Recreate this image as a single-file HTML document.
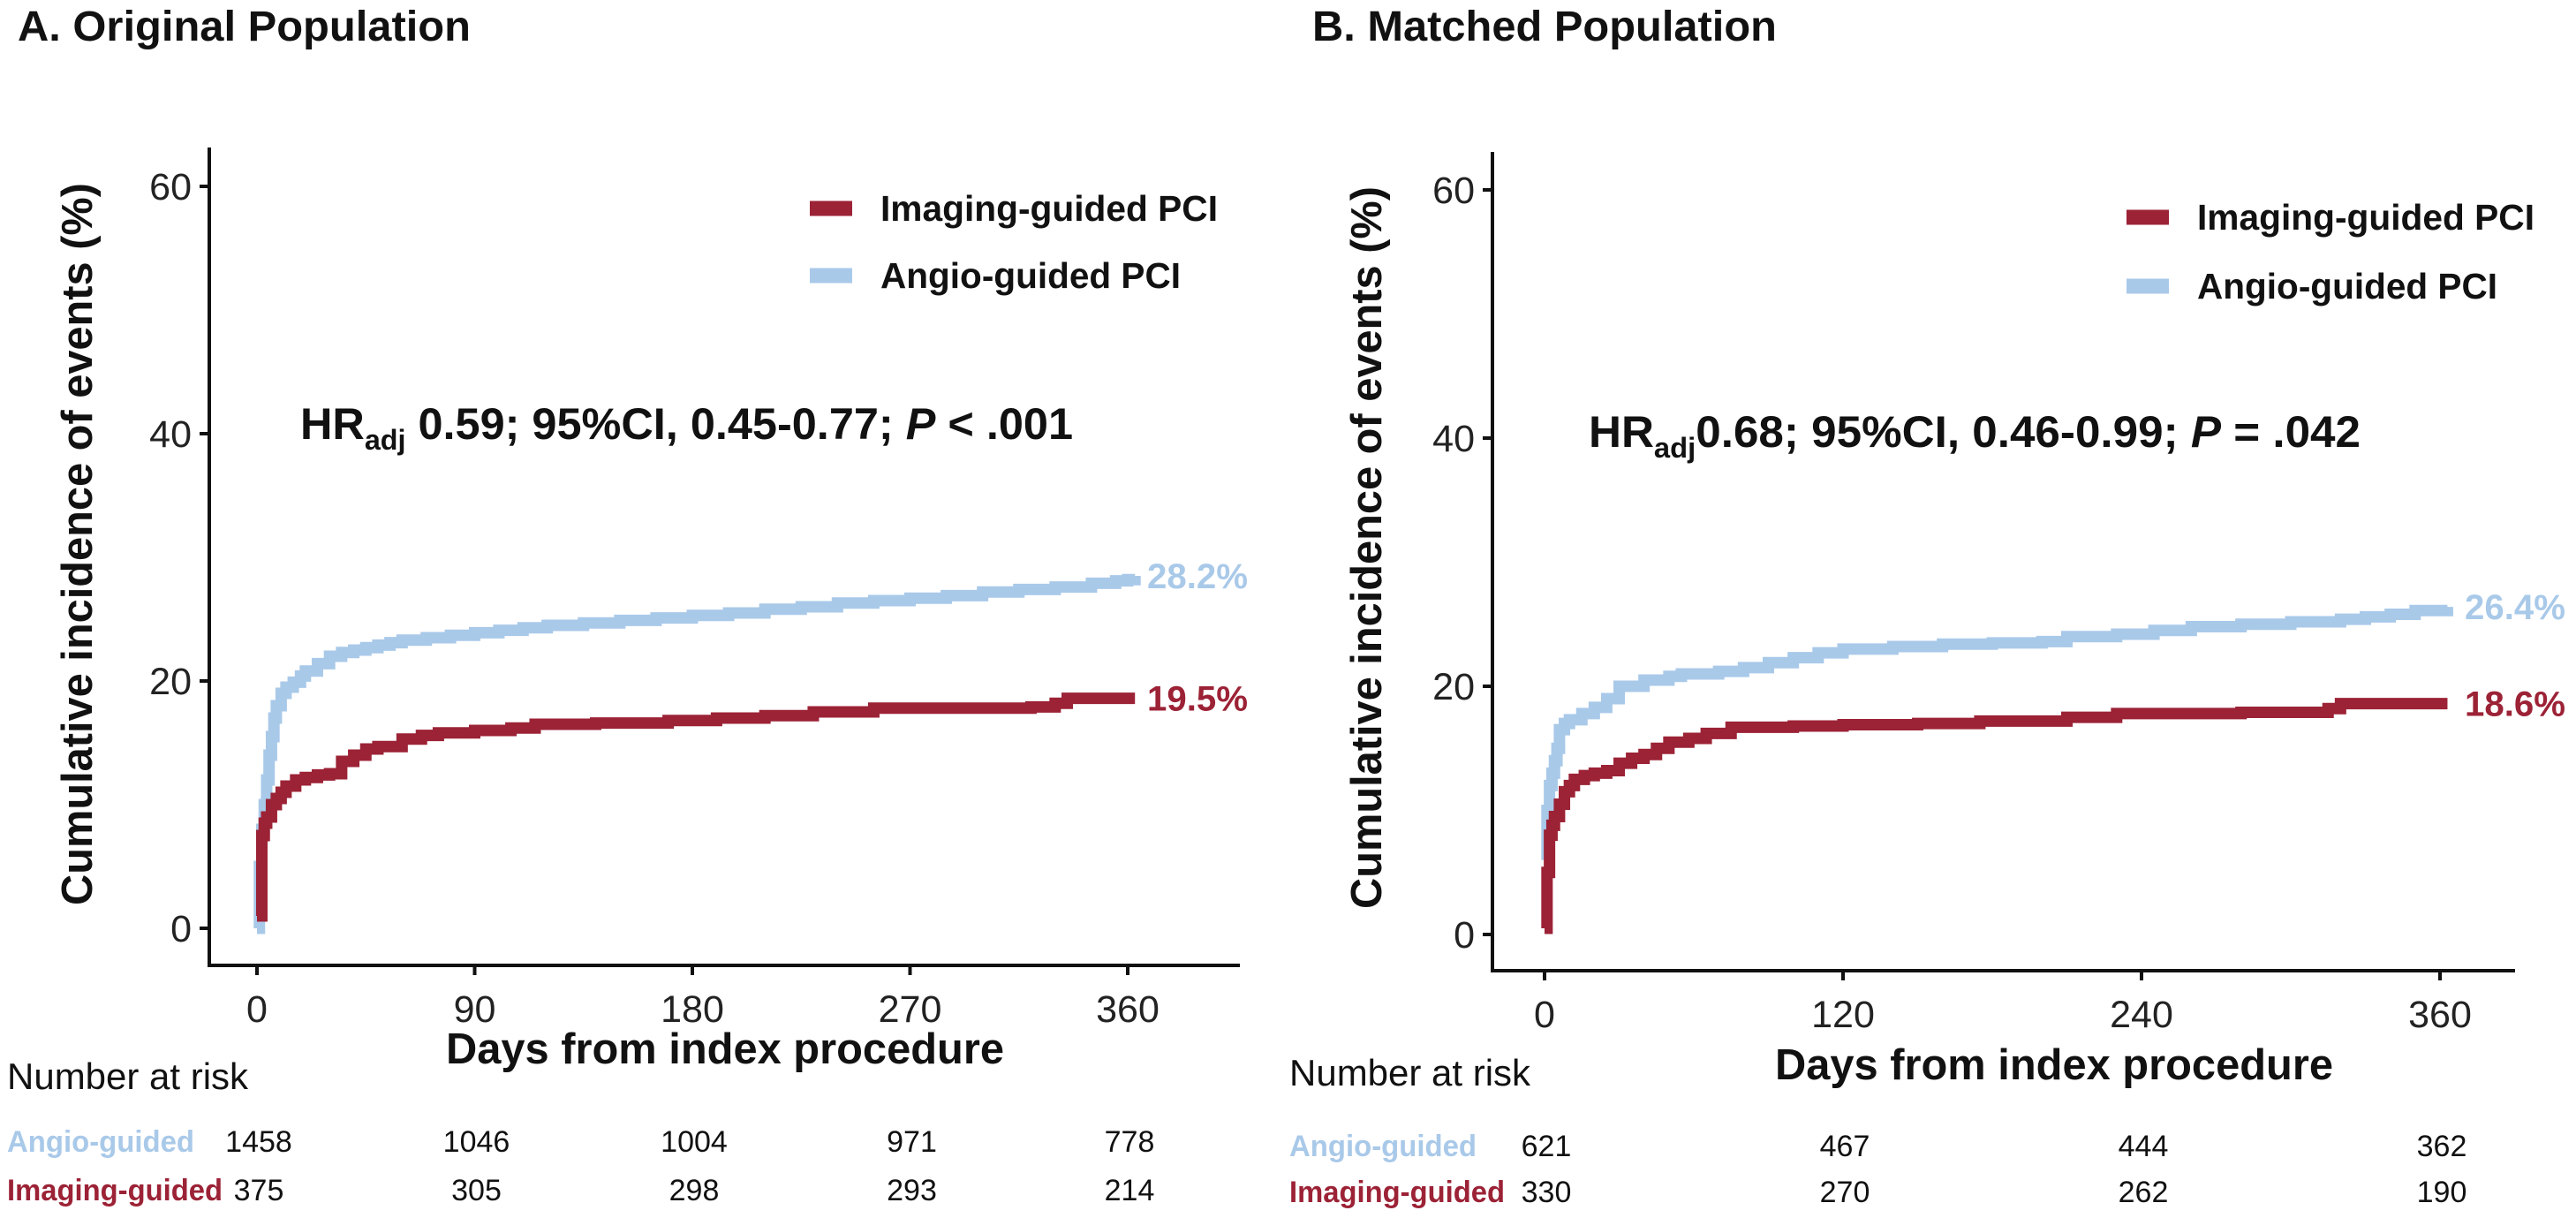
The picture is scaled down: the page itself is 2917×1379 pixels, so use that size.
<!DOCTYPE html>
<html><head><meta charset="utf-8"><style>
html,body{margin:0;padding:0;background:#fff;}
svg{display:block;font-family:"Liberation Sans",Arial,sans-serif;}
</style></head><body>
<svg id="chart" width="2917" height="1379" viewBox="0 0 2917 1379" xmlns="http://www.w3.org/2000/svg">
<g id="root"></g>
</svg>
<script>
// ---- data ----
const aAngioDays = [0,1,2,3,4,5,6,7,8,10,12,15,18,20,25,30,35,40,45,50,55,60,70,80,90,100,110,120,135,150,165,180,195,210,225,240,255,270,285,300,315,330,345,355,360,363];
const aAngioVals = [0,5,8,10,12,14,15.5,17,18,19,19.5,19.9,20.4,20.8,21.4,22,22.3,22.5,22.7,22.9,23.1,23.3,23.5,23.7,23.9,24.1,24.3,24.5,24.7,24.9,25.1,25.3,25.5,25.8,26,26.3,26.5,26.7,26.9,27.2,27.4,27.6,27.9,28.1,28.2,28.5];
const aImgDays = [0,2,3,4,6,8,10,12,16,20,25,30,35,40,45,50,60,68,75,90,105,115,140,170,190,210,230,255,290,320,330,335,363];
const aImgVals = [1,7.5,8.5,9,10,10.5,11,11.5,12,12.2,12.4,12.5,13.5,14,14.5,14.7,15.3,15.6,15.8,16,16.2,16.5,16.6,16.8,17,17.2,17.5,17.8,17.8,17.9,18.2,18.6,18.6];
const bAngioDays = [0,1,2,3,4,5,6,8,10,15,20,25,30,40,50,55,70,80,90,100,110,120,140,160,180,200,210,230,245,260,280,300,320,330,340,350,363];
const bAngioVals = [6,10,12,13,14,15,16.5,17,17.3,17.8,18.3,19,20,20.5,20.8,21,21.2,21.5,21.9,22.3,22.7,23,23.2,23.4,23.5,23.6,24,24.2,24.5,24.8,25,25.2,25.4,25.6,25.8,26.1,26.4];
const bImgDays = [0,1,2,3,4,6,8,10,12,16,20,25,30,35,40,45,50,58,65,75,100,120,150,175,210,230,280,315,320,363];
const bImgVals = [0.5,5,8,8.8,9.5,10.5,11.5,12,12.5,12.8,13,13.2,13.8,14.2,14.5,15,15.5,15.8,16.2,16.7,16.8,16.9,17,17.2,17.5,17.8,17.9,18.2,18.6,18.6];
const yTicks = [0,20,40,60];
const aXTicks = [0,90,180,270,360];
const bXTicks = [0,120,240,360];
const aRiskAngio = ["1458","1046","1004","971","778"];
const aRiskImg = ["375","305","298","293","214"];
const bRiskAngio = ["621","467","444","362"];
const bRiskImg = ["330","270","262","190"];
const aEnd = ["28.2%","19.5%"];
const bEnd = ["26.4%","18.6%"];

const RED="#9c2236", BLUE="#a9c9e9";
const NS="http://www.w3.org/2000/svg";
const root=document.getElementById('root');
function el(tag,attrs,parent,text){
  const e=document.createElementNS(NS,tag);
  for(const k in attrs)e.setAttribute(k,attrs[k]);
  if(text!==undefined)e.textContent=text;
  (parent||root).appendChild(e);return e;
}

function panel(o){
  const g=el('g',{});
  
  
  const xs=d=>o.x0+(d/o.xStep)*o.xPx;
  const ys=v=>o.y0-(v/20)*o.yPx;
  const t=el('text',{x:o.titleX,y:46,'font-size':48,'font-weight':'bold',fill:'#111',textLength:o.titleW,lengthAdjust:'spacingAndGlyphs'},g,o.title);
  
  
  const ax=el('path',{d:`M${o.axX},${o.axTop} V${o.axY} H${o.axEnd}`,stroke:'#111','stroke-width':4,fill:'none'},g);
  
  
  yTicks.forEach(v=>{
    const y=ys(v);
    el('line',{x1:o.axX-11,x2:o.axX,y1:y,y2:y,stroke:'#111','stroke-width':4},g);
    const tl=el('text',{x:o.axX-20,y:y+15,'font-size':43,'text-anchor':'end',fill:'#222'},g,String(v));
    
    
  });
  o.xTicks.forEach(d=>{
    const x=xs(d);
    el('line',{x1:x,x2:x,y1:o.axY,y2:o.axY+11,stroke:'#111','stroke-width':4},g);
    const tl=el('text',{x:x,y:o.axY+64,'font-size':43,'text-anchor':'middle',fill:'#222'},g,String(d));
    
    
  });
  const yt=el('text',{transform:`translate(${o.yTitleX},${o.yTitleY}) rotate(-90)`,'font-size':49,'font-weight':'bold','text-anchor':'middle',fill:'#111',textLength:818,lengthAdjust:'spacingAndGlyphs'},g,'Cumulative incidence of events (%)');
  
  
  const xt=el('text',{x:o.xTitleX,y:o.xTitleY,'font-size':49,'font-weight':'bold','text-anchor':'middle',fill:'#111',textLength:632,lengthAdjust:'spacingAndGlyphs'},g,'Days from index procedure');
  
  
  function step(days,vals,color,name){
    let d=`M${xs(days[0])},${ys(vals[0])}`;
    for(let i=1;i<days.length;i++){d+=` H${xs(days[i])} V${ys(vals[i])}`;}
    const p=el('path',{d:d,stroke:color,'stroke-width':13,fill:'none','stroke-linejoin':'miter'},g);
    
    
  }
  step(o.angioD,o.angioV,BLUE,'angio-curve');
  step(o.imgD,o.imgV,RED,'imaging-curve');
  const e1=el('text',{x:o.endX,y:ys(o.angioV[o.angioV.length-1])+14,'font-size':40,'font-weight':'bold',fill:BLUE,textLength:114,lengthAdjust:'spacingAndGlyphs'},g,o.end[0]);
  
  
  const e2=el('text',{x:o.endX,y:ys(o.imgV[o.imgV.length-1])+14,'font-size':40,'font-weight':'bold',fill:RED,textLength:114,lengthAdjust:'spacingAndGlyphs'},g,o.end[1]);
  
  
  const l1=el('line',{x1:o.legX,x2:o.legX+48,y1:o.legY1,y2:o.legY1,stroke:RED,'stroke-width':17},g);
  
  
  const lt1=el('text',{x:o.legX+80,y:o.legY1+14,'font-size':41,'font-weight':'bold',fill:'#111',textLength:382,lengthAdjust:'spacingAndGlyphs'},g,'Imaging-guided PCI');
  
  
  const l2=el('line',{x1:o.legX,x2:o.legX+48,y1:o.legY2,y2:o.legY2,stroke:BLUE,'stroke-width':17},g);
  
  
  const lt2=el('text',{x:o.legX+80,y:o.legY2+14,'font-size':41,'font-weight':'bold',fill:'#111',textLength:340,lengthAdjust:'spacingAndGlyphs'},g,'Angio-guided PCI');
  
  
  const hr=el('text',{x:o.hrX,y:o.hrY,'font-size':50,'font-weight':'bold',fill:'#111',textLength:o.hrW,lengthAdjust:'spacingAndGlyphs'},g);
  
  
  el('tspan',{},hr,'HR');
  el('tspan',{'font-size':32,dy:12},hr,'adj');
  el('tspan',{dy:-12},hr,o.hr1);
  el('tspan',{'font-style':'italic'},hr,'P');
  el('tspan',{},hr,o.hr2);
  const nr=el('text',{x:o.riskLblX,y:o.nrY,'font-size':42,fill:'#111'},g,'Number at risk');
  
  
  const ra=el('text',{x:o.riskLblX,y:o.row1,'font-size':34,'font-weight':'bold',fill:BLUE,textLength:212,lengthAdjust:'spacingAndGlyphs'},g,'Angio-guided');
  
  
  const ri=el('text',{x:o.riskLblX,y:o.row2,'font-size':34,'font-weight':'bold',fill:RED,textLength:244,lengthAdjust:'spacingAndGlyphs'},g,'Imaging-guided');
  
  
  o.xTicks.forEach((d,i)=>{
    const x=xs(d)+2;
    const n1=el('text',{x:x,y:o.row1,'font-size':34,'text-anchor':'middle',fill:'#111'},g,o.riskA[i]);
    
    
    const n2=el('text',{x:x,y:o.row2,'font-size':34,'text-anchor':'middle',fill:'#111'},g,o.riskI[i]);
    
    
  });
}

panel({key:'panel-a',title:'A. Original Population',titleX:20,titleW:513,
  x0:291,xStep:90,xPx:246.5,y0:1051,yPx:280,
  axX:237,axTop:167,axY:1093,axEnd:1404,xTicks:aXTicks,
  yTitleX:104,yTitleY:616,xTitleX:821,xTitleY:1204,
  angioD:aAngioDays,angioV:aAngioVals,imgD:aImgDays,imgV:aImgVals,
  endX:1299,end:aEnd,legX:917,legY1:236,legY2:312,
  hrX:340,hrY:497,hrW:875,hr1:' 0.59; 95%CI, 0.45-0.77; ',hr2:' < .001',
  riskLblX:8,nrY:1233,row1:1304,row2:1359,riskA:aRiskAngio,riskI:aRiskImg});

panel({key:'panel-b',title:'B. Matched Population',titleX:1486,titleW:526,
  x0:1749,xStep:120,xPx:338,y0:1058,yPx:281,
  axX:1690,axTop:172,axY:1099,axEnd:2848,xTicks:bXTicks,
  yTitleX:1564,yTitleY:620,xTitleX:2326,xTitleY:1222,
  angioD:bAngioDays,angioV:bAngioVals,imgD:bImgDays,imgV:bImgVals,
  endX:2791,end:bEnd,legX:2408,legY1:246,legY2:324,
  hrX:1799,hrY:506,hrW:874,hr1:'0.68; 95%CI, 0.46-0.99; ',hr2:' = .042',
  riskLblX:1460,nrY:1229,row1:1309,row2:1361,riskA:bRiskAngio,riskI:bRiskImg});
</script>
</body></html>
